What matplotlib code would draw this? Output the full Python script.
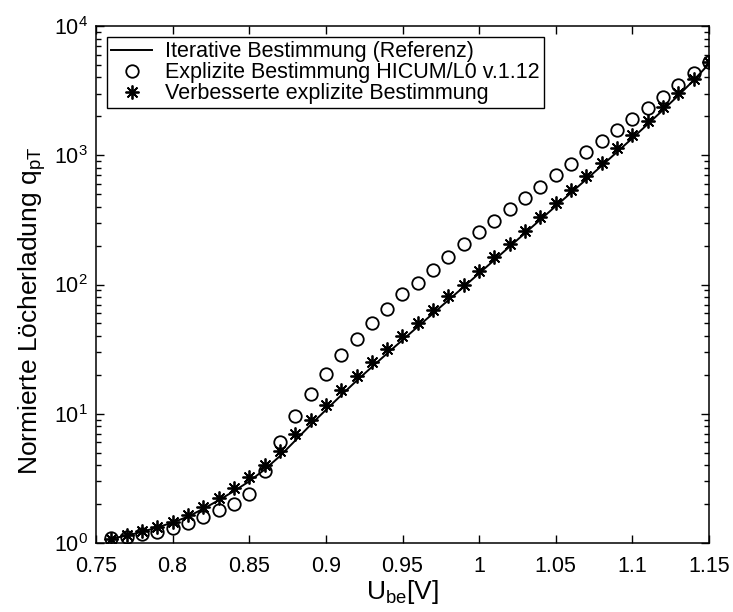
import matplotlib
matplotlib.use("Agg")
import matplotlib.pyplot as plt
import numpy as np

plt.rcParams["font.family"] = ["Liberation Sans", "DejaVu Sans"]
plt.rcParams["mathtext.default"] = "regular"

# U_be in V
u_be = [0.76, 0.77, 0.78, 0.79, 0.80, 0.81, 0.82, 0.83, 0.84, 0.85,
        0.86, 0.87, 0.88, 0.89, 0.90, 0.91, 0.92, 0.93, 0.94, 0.95,
        0.96, 0.97, 0.98, 0.99, 1.00, 1.01, 1.02, 1.03, 1.04, 1.05,
        1.06, 1.07, 1.08, 1.09, 1.10, 1.11, 1.12, 1.13, 1.14, 1.15]

# iterative Bestimmung (Referenz)
q_ref = [1.08, 1.14, 1.22, 1.32, 1.44, 1.60, 1.84, 2.14, 2.52, 3.0,
         3.7, 4.7, 6.2, 8.2, 10.7, 13.9, 18.0, 23.0, 29.3, 37.2,
         47.2, 59.8, 75.8, 96, 122, 155, 197, 250, 318, 404,
         513, 652, 830, 1060, 1355, 1740, 2240, 2900, 3800, 5100]

# HICUM/L0 v.1.12
q_hicum = [1.09, 1.12, 1.17, 1.22, 1.31, 1.43, 1.60, 1.80, 2.0, 2.38,
           3.62, 6.0, 9.6, 14.3, 20.4, 28.3, 38.1, 50.6, 64.9, 83.7,
           103, 130, 164, 206, 254, 312, 384, 467, 565, 703,
           855, 1051, 1279, 1566, 1903, 2300, 2845, 3484, 4306, 5295]

# verbesserte explizite Bestimmung
q_new = [1.08, 1.15, 1.24, 1.34, 1.46, 1.64, 1.91, 2.24, 2.67, 3.22,
         4.0, 5.17, 6.94, 9.0, 11.6, 15.4, 19.6, 25.1, 31.5, 39.9,
         50.6, 63.8, 80.8, 100, 128, 163, 206, 261, 331, 425,
         538, 691, 876, 1132, 1435, 1841, 2376, 3048, 3870, 5295]

fig = plt.figure(figsize=(7.33, 6.12), dpi=100)
ax = fig.add_axes([96 / 733, 69 / 612, 613 / 733, 517 / 612])

ax.plot(u_be, q_ref, "k-", lw=1.4, label="Iterative Bestimmung (Referenz)")
ax.plot(u_be, q_hicum, "o", mfc="none", mec="k", ms=9, mew=1.3, ls="none",
        label="Explizite Bestimmung HICUM/L0 v.1.12")
ax.plot(u_be, q_new, ls="none", marker=(8, 2, 0), mec="k", ms=10, mew=1.3,
        label="Verbesserte explizite Bestimmung")

ax.set_yscale("log")
ax.set_xlim(0.75, 1.15)
ax.set_ylim(1, 1e4)
ax.set_xticks(np.arange(0.75, 1.151, 0.05))
ax.set_xticklabels(["0.75", "0.8", "0.85", "0.9", "0.95", "1", "1.05", "1.1", "1.15"])

ax.tick_params(which="both", direction="in", top=True, right=True, labelsize=15.5)
ax.tick_params(which="major", length=6, width=1)
ax.tick_params(which="minor", length=3.5, width=1)
ax.tick_params(axis="x", pad=9)
ax.tick_params(axis="y", pad=6)
for s in ax.spines.values():
    s.set_linewidth(1.1)

ax.set_xlabel("U$_{be}$[V]", fontsize=19, labelpad=1)
ax.set_ylabel("Normierte Löcherladung q$_{pT}$", fontsize=19)
ax.yaxis.set_label_coords(-0.078, 0.45)

leg = ax.legend(loc="upper left", fontsize=15.5, fancybox=False, framealpha=1,
                edgecolor="k", borderpad=0.2, labelspacing=0.0,
                handlelength=1.9, handletextpad=0.6, borderaxespad=0.5)
leg.get_frame().set_linewidth(1.0)

fig.savefig("out.png", dpi=100)
